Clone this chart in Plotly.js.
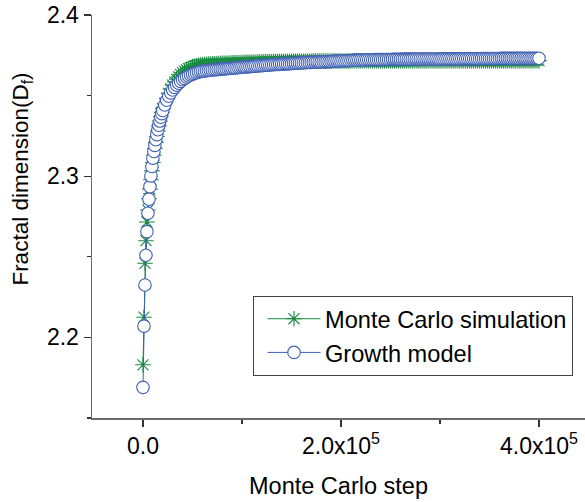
<!DOCTYPE html>
<html>
<head>
<meta charset="utf-8">
<script src="https://cdn.plot.ly/plotly-3.0.1.min.js"></script>
<style>html,body{margin:0;padding:0;background:#fff;}#chart{width:585px;height:502px;}</style>
</head>
<body>
<div id="chart"></div>
<script>
// Monte Carlo step, in thousands of steps
var stepsK = [0,1,2,3,4,5,6,7,8,9,10,11,12,13,14,15,16,17,18,19,20,
22,24,26,28,30,32,34,36,38,40,42,44,46,48,50,52,54,56,58,60,
62,64,66,68,70,72,74,76,78,80,82,84,86,88,90,92,94,96,98,100,
102,104,106,108,110,112,114,116,118,120,122,124,126,128,130,132,134,136,138,140,
142,144,146,148,150,152,154,156,158,160,162,164,166,168,170,172,174,176,178,180,
182,184,186,188,190,192,194,196,198,200,202,204,206,208,210,212,214,216,218,220,
222,224,226,228,230,232,234,236,238,240,242,244,246,248,250,252,254,256,258,260,
262,264,266,268,270,272,274,276,278,280,282,284,286,288,290,292,294,296,298,300,
302,304,306,308,310,312,314,316,318,320,322,324,326,328,330,332,334,336,338,340,
342,344,346,348,350,352,354,356,358,360,362,364,366,368,370,372,374,376,378,380,
382,384,386,388,390,392,394,396,398,400];

// Monte Carlo simulation (green stars)
var monteCarlo = [2.1830,2.2125,2.2460,2.2600,2.2716,2.2790,2.2860,2.2920,2.2978,2.3033,2.3085,2.3130,2.3172,2.3210,2.3246,2.3280,2.3312,2.3342,2.3370,2.3396,2.3420,
2.3448,2.3483,2.3514,2.3541,2.3565,2.3584,2.3601,2.3616,2.3630,2.3642,2.3652,2.3660,2.3667,2.3673,2.3678,2.3682,2.3685,2.3688,2.3690,2.3692,
2.3693,2.3694,2.3695,2.3696,2.3697,2.3697,2.3698,2.3699,2.3699,2.3700,2.3700,2.3701,2.3701,2.3702,2.3702,2.3703,2.3703,2.3704,2.3704,2.3705,
2.3705,2.3706,2.3706,2.3706,2.3707,2.3707,2.3707,2.3708,2.3708,2.3708,2.3709,2.3709,2.3709,2.3710,2.3710,2.3710,2.3711,2.3711,2.3711,2.3711,
2.3712,2.3712,2.3712,2.3712,2.3712,2.3713,2.3713,2.3713,2.3713,2.3713,2.3713,2.3713,2.3713,2.3713,2.3713,2.3714,2.3714,2.3714,2.3714,2.3714,
2.3714,2.3714,2.3714,2.3714,2.3714,2.3715,2.3715,2.3715,2.3715,2.3715,2.3715,2.3715,2.3715,2.3715,2.3715,2.3716,2.3716,2.3716,2.3716,2.3716,
2.3716,2.3716,2.3716,2.3716,2.3716,2.3716,2.3716,2.3716,2.3716,2.3716,2.3716,2.3716,2.3716,2.3716,2.3716,2.3716,2.3716,2.3716,2.3716,2.3716,
2.3716,2.3716,2.3716,2.3716,2.3716,2.3716,2.3716,2.3716,2.3716,2.3716,2.3717,2.3717,2.3717,2.3717,2.3717,2.3717,2.3717,2.3717,2.3717,2.3717,
2.3717,2.3717,2.3717,2.3717,2.3717,2.3717,2.3717,2.3717,2.3717,2.3717,2.3717,2.3717,2.3717,2.3717,2.3717,2.3717,2.3717,2.3717,2.3717,2.3717,
2.3717,2.3717,2.3717,2.3717,2.3717,2.3717,2.3717,2.3717,2.3717,2.3717,2.3717,2.3717,2.3717,2.3717,2.3717,2.3717,2.3717,2.3717,2.3717,2.3717,
2.3717,2.3717,2.3717,2.3717,2.3717,2.3717,2.3717,2.3717,2.3717,2.3717];

// Growth model (blue circles)
var growthModel = [2.1690,2.2070,2.2325,2.2510,2.2656,2.2770,2.2857,2.2935,2.3002,2.3060,2.3112,2.3153,2.3191,2.3226,2.3258,2.3288,2.3316,2.3342,2.3366,2.3388,2.3408,
2.3442,2.3471,2.3496,2.3517,2.3535,2.3551,2.3565,2.3577,2.3588,2.3598,2.3607,2.3615,2.3622,2.3628,2.3633,2.3638,2.3642,2.3646,2.3649,2.3652,
2.3653,2.3655,2.3656,2.3657,2.3659,2.3660,2.3661,2.3662,2.3664,2.3665,2.3666,2.3667,2.3668,2.3669,2.3670,2.3671,2.3672,2.3674,2.3675,2.3676,
2.3677,2.3678,2.3679,2.3680,2.3681,2.3682,2.3683,2.3684,2.3685,2.3686,2.3687,2.3688,2.3689,2.3690,2.3691,2.3692,2.3693,2.3693,2.3694,2.3695,
2.3696,2.3697,2.3697,2.3698,2.3699,2.3700,2.3701,2.3701,2.3702,2.3703,2.3704,2.3704,2.3705,2.3706,2.3706,2.3707,2.3707,2.3708,2.3708,2.3709,
2.3710,2.3710,2.3711,2.3711,2.3712,2.3713,2.3713,2.3714,2.3714,2.3715,2.3716,2.3716,2.3717,2.3717,2.3718,2.3719,2.3719,2.3720,2.3720,2.3721,
2.3721,2.3721,2.3722,2.3722,2.3722,2.3722,2.3723,2.3723,2.3723,2.3723,2.3724,2.3724,2.3724,2.3724,2.3724,2.3725,2.3725,2.3725,2.3725,2.3725,
2.3726,2.3726,2.3726,2.3726,2.3726,2.3726,2.3727,2.3727,2.3727,2.3727,2.3727,2.3727,2.3727,2.3727,2.3727,2.3727,2.3727,2.3727,2.3727,2.3727,
2.3728,2.3728,2.3728,2.3728,2.3728,2.3728,2.3728,2.3728,2.3728,2.3728,2.3729,2.3729,2.3729,2.3729,2.3729,2.3729,2.3729,2.3729,2.3729,2.3729,
2.3730,2.3730,2.3730,2.3730,2.3730,2.3730,2.3730,2.3730,2.3730,2.3730,2.3731,2.3731,2.3731,2.3731,2.3731,2.3731,2.3731,2.3731,2.3731,2.3731,
2.3732,2.3732,2.3732,2.3732,2.3732,2.3732,2.3732,2.3732,2.3732,2.3732];

var seriesNames = ['Monte Carlo simulation', 'Growth model'];
var xTitle = 'Monte Carlo step';
var yTitle = 'Fractal dimension(D<sub>f</sub>)';
var xTickVals = [0, 200000, 400000];
var xTickText = ['0.0', '2.0x10<sup>5</sup>', '4.0x10<sup>5</sup>'];
var xMinorVals = [100000, 300000];
var yTickVals = [2.2, 2.3, 2.4];
var yTickText = ['2.2', '2.3', '2.4'];
var yMinorVals = [2.15, 2.25, 2.35];

var steps = stepsK.map(function (k) { return k * 1000; });

var FONT = 'Arial, "Liberation Sans", sans-serif';
var GREEN = '#17893f';
var BLUE = '#4060b4';
var AXIS = '#6a6a6a';

var traces = [
  {
    x: steps, y: monteCarlo, name: seriesNames[0], type: 'scatter', mode: 'lines+markers',
    line: {color: GREEN, width: 1},
    marker: {symbol: 'asterisk-open', size: 13, color: GREEN, line: {color: GREEN, width: 1.1}}
  },
  {
    x: steps, y: growthModel, name: seriesNames[1], type: 'scatter', mode: 'lines+markers',
    line: {color: BLUE, width: 1},
    marker: {symbol: 'circle', size: 12.5, color: '#ffffff', line: {color: BLUE, width: 1.1}}
  }
];

var layout = {
  width: 585, height: 502,
  margin: {l: 92, r: 0, t: 15, b: 84},
  paper_bgcolor: '#ffffff', plot_bgcolor: '#ffffff',
  font: {family: FONT, color: '#000000', size: 22},
  showlegend: true,
  legend: {
    x: 0.3266, y: 0.303, xanchor: 'left', yanchor: 'top',
    bgcolor: '#ffffff', bordercolor: '#444444', borderwidth: 1,
    font: {family: FONT, size: 23.6, color: '#000000'},
    itemwidth: 61, tracegroupgap: 0
  },
  xaxis: {
    range: [-51500, 446500],
    showline: true, linecolor: AXIS, linewidth: 1.5, mirror: false,
    showgrid: false, zeroline: false,
    tickmode: 'array', tickvals: xTickVals, ticktext: xTickText,
    ticks: 'outside', ticklen: 7, tickwidth: 1.2, tickcolor: '#333333',
    tickfont: {family: FONT, size: 23, color: '#000000'},
    minor: {tickmode: 'array', tickvals: xMinorVals, ticks: 'outside', ticklen: 4, tickwidth: 1.2, tickcolor: '#333333', showgrid: false},
    title: {text: xTitle, font: {family: FONT, size: 23.5, color: '#000000'}, standoff: 19}
  },
  yaxis: {
    range: [2.15, 2.4],
    showline: true, linecolor: AXIS, linewidth: 1.5, mirror: false,
    showgrid: false, zeroline: false,
    tickmode: 'array', tickvals: yTickVals, ticktext: yTickText,
    ticks: 'outside', ticklen: 7, tickwidth: 1.2, tickcolor: '#333333',
    tickfont: {family: FONT, size: 23, color: '#000000'},
    minor: {tickmode: 'array', tickvals: yMinorVals, ticks: 'outside', ticklen: 4, tickwidth: 1.2, tickcolor: '#333333', showgrid: false}
  },
  annotations: [{
    text: yTitle, textangle: -90, showarrow: false,
    xref: 'paper', yref: 'paper', x: -0.142, y: 0.594,
    xanchor: 'center', yanchor: 'middle',
    font: {family: FONT, size: 22.5, color: '#000000'}
  }]
};

Plotly.newPlot('chart', traces, layout, {displayModeBar: false, staticPlot: true}).then(function (gd) {
  try {
    // lengthen the legend line samples to match the reference legend
    var bg = gd.querySelector('.legend .bg');
    if (!bg) return;
    var bgLeft = bg.getBoundingClientRect().left;
    var lines = gd.querySelectorAll('.legend .traces .js-line');
    var pts = gd.querySelectorAll('.legend .traces .scatterpts');
    lines.forEach(function (p) {
      var off = p.getBoundingClientRect().left - bgLeft;
      var start = 5 + (14 - off);
      p.setAttribute('d', 'M' + start + ',0h53');
      p.__start = start;
    });
    if (lines.length) {
      var s = lines[0].__start;
      pts.forEach(function (m) { m.setAttribute('transform', 'translate(' + (s + 26.5) + ',0)'); });
    }
  } catch (e) {}
});
</script>
</body>
</html>
